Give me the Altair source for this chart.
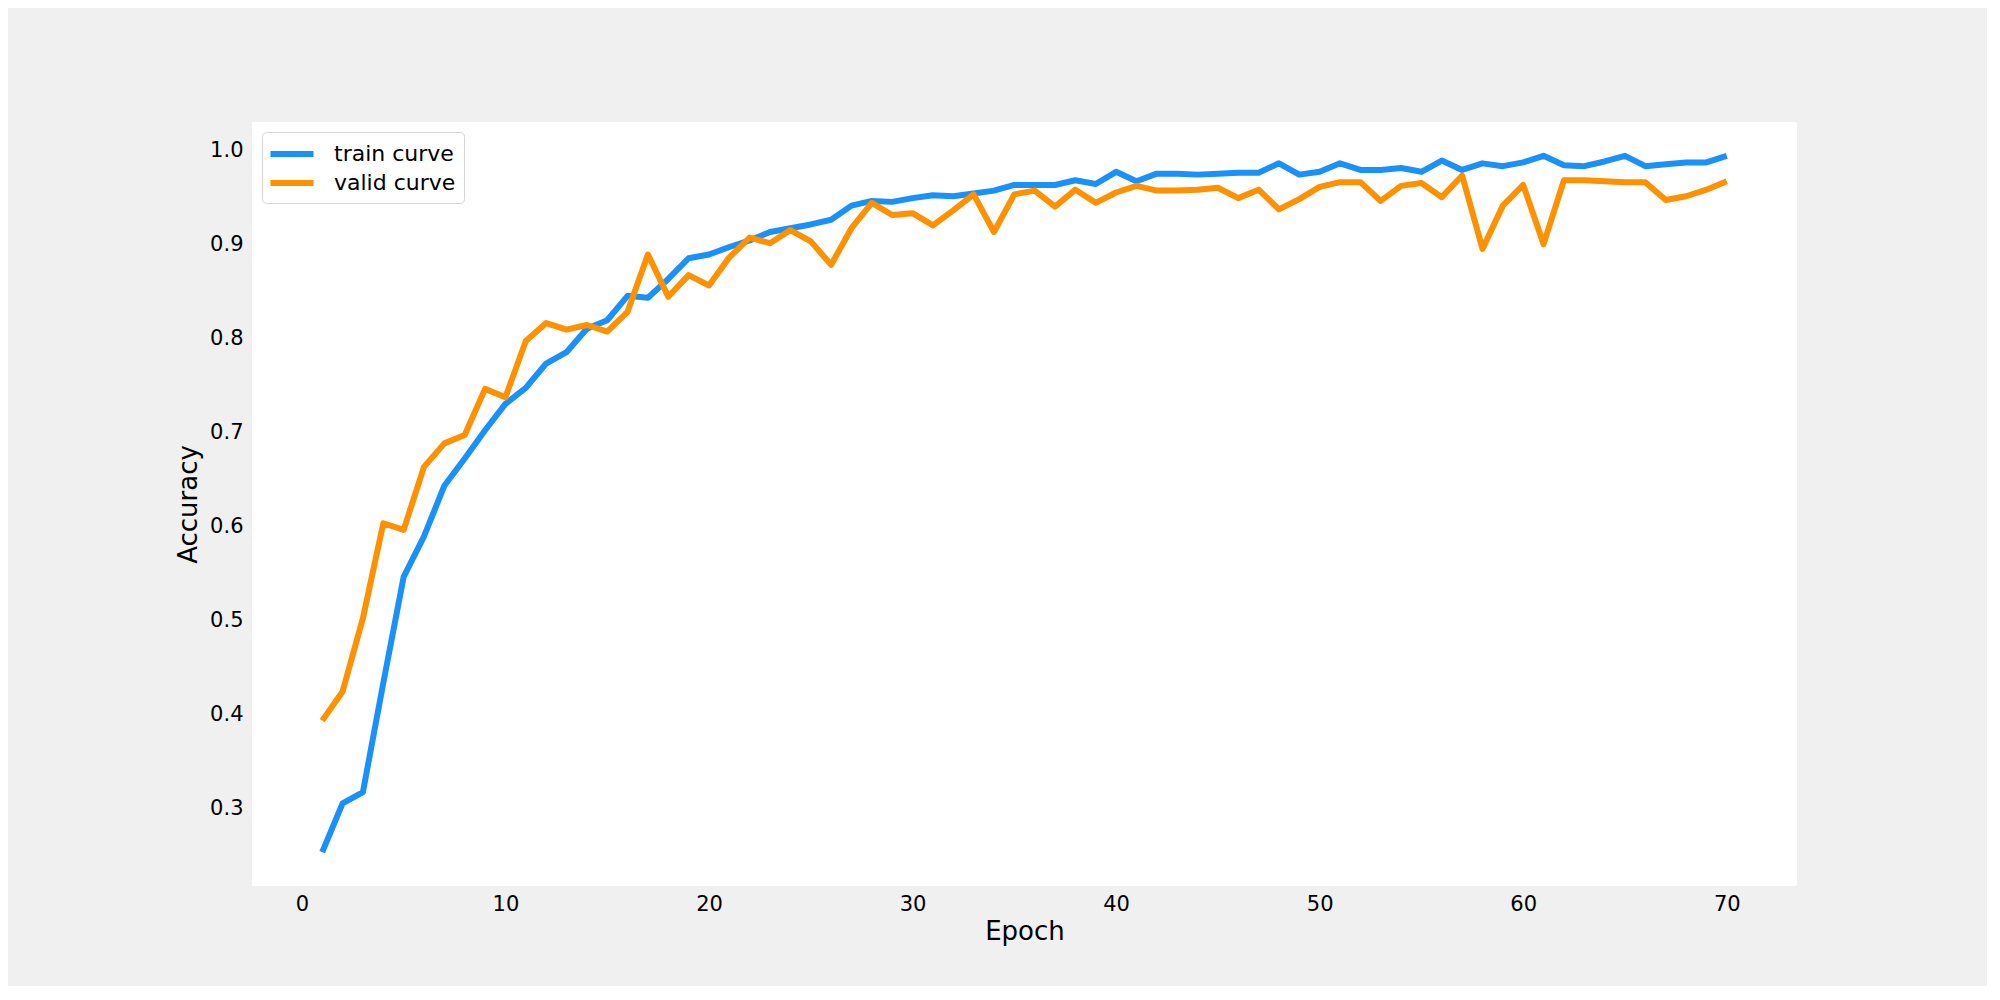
import altair as alt
import pandas as pd

epochs = list(range(1, 71))
train_acc = [0.253, 0.305, 0.317, 0.433, 0.546, 0.589, 0.643, 0.672, 0.702, 0.730,
             0.747, 0.773, 0.785, 0.810, 0.819, 0.845, 0.843, 0.863, 0.885, 0.889,
             0.897, 0.904, 0.913, 0.917, 0.921, 0.926, 0.941, 0.946, 0.945, 0.949,
             0.952, 0.951, 0.954, 0.957, 0.963, 0.963, 0.963, 0.968, 0.964, 0.977,
             0.967, 0.975, 0.975, 0.974, 0.975, 0.976, 0.976, 0.986, 0.974, 0.977,
             0.986, 0.979, 0.979, 0.981, 0.977, 0.989, 0.979, 0.986, 0.983, 0.987,
             0.994, 0.984, 0.983, 0.988, 0.994, 0.983, 0.985, 0.987, 0.987, 0.994]
valid_acc = [0.393, 0.424, 0.502, 0.603, 0.596, 0.663, 0.688, 0.697, 0.746, 0.737,
             0.797, 0.816, 0.809, 0.814, 0.807, 0.828, 0.889, 0.844, 0.867, 0.856,
             0.886, 0.907, 0.901, 0.915, 0.903, 0.878, 0.917, 0.944, 0.931, 0.933,
             0.920, 0.936, 0.953, 0.913, 0.953, 0.957, 0.940, 0.958, 0.944, 0.955,
             0.962, 0.957, 0.957, 0.958, 0.960, 0.949, 0.958, 0.937, 0.948, 0.961,
             0.966, 0.966, 0.946, 0.962, 0.965, 0.950, 0.973, 0.895, 0.941, 0.963,
             0.900, 0.968, 0.968, 0.967, 0.966, 0.966, 0.947, 0.951, 0.958, 0.967]
series_names = ["train curve", "valid curve"]
series_colors = ["#1a91f8", "#ff9100"]
x_ticks = [0, 10, 20, 30, 40, 50, 60, 70]
y_ticks = [0.3, 0.4, 0.5, 0.6, 0.7, 0.8, 0.9, 1.0]

df = pd.DataFrame({
    "Epoch": epochs * 2,
    "Accuracy": train_acc + valid_acc,
    "series": [series_names[0]] * len(epochs) + [series_names[1]] * len(epochs),
})

FONT = "DejaVu Sans"

chart = alt.Chart(df).mark_line(strokeWidth=6, strokeJoin="round").encode(
    x=alt.X("Epoch:Q",
            scale=alt.Scale(domain=[-2.45, 73.45], nice=False, zero=False),
            axis=alt.Axis(values=x_ticks, format="d", title="Epoch")),
    y=alt.Y("Accuracy:Q",
            scale=alt.Scale(domain=[0.217, 1.030], nice=False, zero=False),
            axis=alt.Axis(values=y_ticks, format=".1f", title="Accuracy")),
    color=alt.Color("series:N",
                    scale=alt.Scale(domain=series_names, range=series_colors),
                    legend=alt.Legend(title=None, orient="none", legendX=10, legendY=10,
                                      symbolType="M-2,0L2,0", symbolSize=462,
                                      symbolStrokeWidth=6, symbolOffset=8,
                                      labelOffset=28, labelFontSize=22, labelFont=FONT,
                                      labelColor="#000000",
                                      rowPadding=3, padding=8,
                                      fillColor="#ffffff", strokeColor="#d6d6d6",
                                      cornerRadius=4)),
    order=alt.Order("Epoch:Q"),
).properties(
    width=1545, height=764,
    background="#f0f0f0",
    padding={"left": 244, "top": 114, "right": 190, "bottom": 100},
    autosize=alt.AutoSizeParams(type="none"),
).configure_view(
    fill="#ffffff", stroke=None,
).configure_axis(
    domain=False, ticks=False, grid=False,
    labelFont=FONT, labelFontSize=21, labelColor="#000000",
    titleFont=FONT, titleFontSize=26, titleFontWeight="normal", titleColor="#000000",
).configure_axisX(
    labelPadding=7, titlePadding=4,
).configure_axisY(
    labelPadding=9, titlePadding=8,
)

chart.save("out.html", embed_options={"renderer": "svg", "actions": False})
